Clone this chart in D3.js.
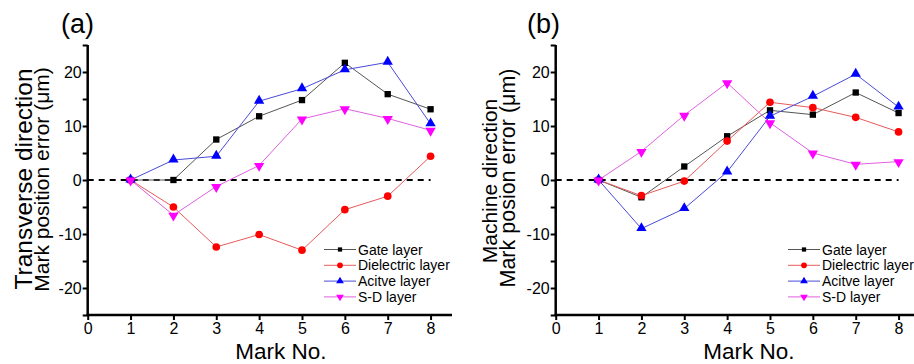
<!DOCTYPE html>
<html>
<head>
<meta charset="utf-8">
<script src="https://cdn.jsdelivr.net/npm/d3@7"></script>
<style>
  html, body { margin: 0; padding: 0; background: #fff; }
  svg { display: block; font-family: "Liberation Sans", Arial, sans-serif; }
</style>
</head>
<body>
<svg id="chart" width="914" height="364"></svg>
<script>
// ---- Data ----
const markNo = [1, 2, 3, 4, 5, 6, 7, 8];
const seriesNames = ["Gate layer", "Dielectric layer", "Acitve layer", "S-D layer"];

// Panel (a): transverse direction
const aGate       = [0, 0.0, 7.5, 11.8, 14.8, 21.7, 15.9, 13.1];
const aDielectric = [0, -5.0, -12.4, -10.1, -13.0, -5.5, -3.0, 4.4];
const aActive     = [0, 3.7, 4.4, 14.6, 16.9, 20.4, 21.8, 10.4];
const aSD         = [0, -6.5, -1.2, 2.7, 11.3, 13.2, 11.4, 9.2];

// Panel (b): machine direction
const bGate       = [0, -3.2, 2.5, 8.1, 12.9, 12.1, 16.2, 12.4];
const bDielectric = [0, -2.9, -0.2, 7.2, 14.4, 13.4, 11.6, 8.9];
const bActive     = [0, -9.0, -5.3, 1.5, 11.8, 15.5, 19.6, 13.5];
const bSD         = [0, 5.3, 12.0, 18.0, 10.6, 5.0, 2.9, 3.4];

const xTicks = [0, 1, 2, 3, 4, 5, 6, 7, 8];
const yTicks = [-25, -20, -15, -10, -5, 0, 5, 10, 15, 20, 25];
const yTickLabels = [-20, -10, 0, 10, 20];

// ---- Styles ----
const markerColors = ["#000000", "#ff0000", "#0000ff", "#ff00ff"];
const lineColors = ["#555555", "#e85a5a", "#4a4ad8", "#e060e0"];
const symbols = [d3.symbolSquare, d3.symbolCircle, d3.symbolTriangle, d3.symbolTriangle];
const symRot = [0, 0, 0, 180];
const symSize = [40, 46, 46, 46];
const legSymSize = [18, 26, 26, 26];

const svg = d3.select("#chart");

function drawPanel(cfg) {
  const g = svg.append("g");
  const x = d3.scaleLinear().domain([0, 8.5]).range([cfg.x0, cfg.x0 + 364.3]);
  const y = d3.scaleLinear().domain([-25, 25]).range([315, 45]);

  // Zero dashed line
  g.append("line")
    .attr("x1", x(0)).attr("x2", x(8))
    .attr("y1", y(0)).attr("y2", y(0))
    .attr("stroke", "#000").attr("stroke-width", 2)
    .attr("stroke-dasharray", "6,5");

  // Series
  const data = cfg.series;
  data.forEach((vals, i) => {
    const pts = markNo.map((m, j) => [m, vals[j]]);
    g.append("path")
      .attr("d", d3.line().x(d => x(d[0])).y(d => y(d[1]))(pts))
      .attr("fill", "none")
      .attr("stroke", lineColors[i])
      .attr("stroke-width", 1);
  });
  data.forEach((vals, i) => {
    const pts = markNo.map((m, j) => [m, vals[j]]);
    g.selectAll(null).data(pts).enter().append("path")
      .attr("d", d3.symbol().type(symbols[i]).size(symSize[i]))
      .attr("transform", d => `translate(${x(d[0])},${y(d[1]) + (i >= 2 ? (i === 2 ? -0.5 : 0.5) : 0)}) rotate(${symRot[i]})`)
      .attr("fill", markerColors[i]);
  });

  // Axes
  const yAxis = d3.axisLeft(y).tickValues(yTicks).tickSize(5)
    .tickFormat(d => yTickLabels.includes(d) ? d : "");
  const ya = g.append("g").attr("transform", `translate(${x(0)},0)`).call(yAxis);
  ya.select(".domain").attr("stroke-width", 2.5).attr("d", `M0,${y(25)}V${y(-25)}`);
  ya.selectAll(".tick line").attr("stroke-width", 2);
  ya.selectAll(".tick text").attr("font-size", 16).attr("x", -6).attr("fill", "#000")
    .attr("font-family", "Liberation Sans, Arial, sans-serif");

  const xAxis = d3.axisBottom(x).tickValues(xTicks).tickSize(5).tickFormat(d3.format("d"));
  const xa = g.append("g").attr("transform", `translate(0,${y(-25)})`).call(xAxis);
  xa.select(".domain").attr("stroke-width", 2.5).attr("d", `M${x(0) - 1.2},0H${x(8.5)}`);
  xa.selectAll(".tick line").attr("stroke-width", 2);
  xa.selectAll(".tick text").attr("font-size", 16).attr("y", 8).attr("fill", "#000")
    .attr("font-family", "Liberation Sans, Arial, sans-serif");

  // Panel label
  g.append("text").attr("x", cfg.labelX).attr("y", 33)
    .attr("font-size", 27).text(cfg.label);

  // X title
  g.append("text").attr("x", cfg.xTitleX).attr("y", 359)
    .attr("text-anchor", "middle").attr("font-size", 22.5).text("Mark No.");

  // Y title (two lines)
  cfg.yTitle.forEach((t, k) => {
    g.append("text")
      .attr("transform", `translate(${cfg.yTitleX[k]},${cfg.yTitleY[k]}) rotate(-90)`)
      .attr("text-anchor", "middle").attr("font-size", cfg.yTitleSize[k]).text(t);
  });

  // Legend
  const lg = g.append("g");
  seriesNames.forEach((name, i) => {
    const ly = 249.5 + i * 15.8;
    lg.append("line").attr("x1", cfg.legX).attr("x2", cfg.legX + 32)
      .attr("y1", ly).attr("y2", ly)
      .attr("stroke", lineColors[i]).attr("stroke-width", 1);
    lg.append("path")
      .attr("d", d3.symbol().type(symbols[i]).size(legSymSize[i]))
      .attr("transform", `translate(${cfg.legX + 16},${ly}) rotate(${symRot[i]})`)
      .attr("fill", markerColors[i]);
    lg.append("text").attr("x", cfg.legX + 34).attr("y", ly + 5)
      .attr("font-size", 14).text(name);
  });
}

drawPanel({
  x0: 87.7, label: "(a)", labelX: 61, xTitleX: 281,
  yTitle: ["Transverse direction", "Mark position error (μm)"],
  yTitleX: [32, 49], yTitleY: [179, 179.5], yTitleSize: [24.5, 21],
  series: [aGate, aDielectric, aActive, aSD], legX: 324
});
drawPanel({
  x0: 555.7, label: "(b)", labelX: 527, xTitleX: 749,
  yTitle: ["Machine direction", "Mark posion error (μm)"],
  yTitleX: [497, 515], yTitleY: [181, 178], yTitleSize: [21, 21.5],
  series: [bGate, bDielectric, bActive, bSD], legX: 788
});
</script>
</body>
</html>
